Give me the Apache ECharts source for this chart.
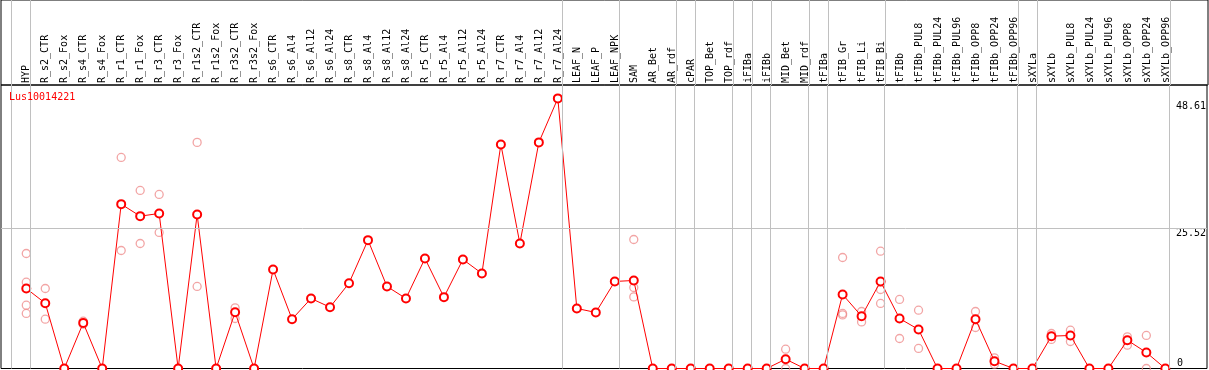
<!DOCTYPE html>
<html><head><meta charset="utf-8">
<script src="https://cdn.jsdelivr.net/npm/echarts@6/dist/echarts.min.js"></script>
<style>html,body{margin:0;padding:0;background:#fff}#c{width:1209px;height:370px}</style>
</head><body><div id="c"></div>
<script>
const geneName = 'Lus10014221';
const categories = ['HYP','R_s2_CTR','R_s2_Fox','R_s4_CTR','R_s4_Fox','R_r1_CTR','R_r1_Fox','R_r3_CTR','R_r3_Fox',
  'R_r1s2_CTR','R_r1s2_Fox','R_r3s2_CTR','R_r3s2_Fox','R_s6_CTR','R_s6_Al4','R_s6_Al12','R_s6_Al24',
  'R_s8_CTR','R_s8_Al4','R_s8_Al12','R_s8_Al24','R_r5_CTR','R_r5_Al4','R_r5_Al12','R_r5_Al24',
  'R_r7_CTR','R_r7_Al4','R_r7_Al12','R_r7_Al24','LEAF_N','LEAF_P','LEAF_NPK','SAM','AR_Bet','AR_rdf',
  'cPAR','TOP_Bet','TOP_rdf','iFIBa','iFIBb','MID_Bet','MID_rdf','tFIBa','tFIB_Gr','tFIB_Li','tFIB_Bi',
  'tFIBb','tFIBb_PUL8','tFIBb_PUL24','tFIBb_PUL96','tFIBb_OPP8','tFIBb_OPP24','tFIBb_OPP96',
  'sXYLa','sXYLb','sXYLb_PUL8','sXYLb_PUL24','sXYLb_PUL96','sXYLb_OPP8','sXYLb_OPP24','sXYLb_OPP96'];

// mean expression (red line)
const mainValues = [
  14.58, 11.9, 0, 8.31, 0, 29.95, 27.76, 28.25, 0, 28.07, 0, 10.26, 0,
  18.05, 8.99, 12.76, 11.17, 15.55, 23.39, 14.95, 12.76, 20.05, 13.0, 19.87, 17.32, 40.83, 22.78, 41.2, 49.22,
  10.94, 10.21, 15.86, 16.04, 0, 0, 0, 0, 0, 0, 0, 1.7, 0, 0,
  13.49, 9.53, 15.86, 9.11, 7.11, 0, 0, 8.99, 1.33, 0,
  0, 5.89, 6.02, 0, 0, 5.16, 2.92, 0];

// individual replicates (pale circles)
const repA = [
  20.96, 14.58, null, 8.62, null, 38.46, 32.45, 31.72, null, 41.2, null, 11.05, null,
  null, null, null, null, null, null, null, null, null, null, null, null, null, null, null, null,
  null, null, null, 23.51, null, null, null, null, null, null, null, 3.52, null, null,
  20.23, 10.39, 21.38, 12.58, 10.63, null, null, 10.39, 1.93, null,
  null, 6.38, 6.98, null, null, 5.76, 6.02, null];
const repB = [
  15.73, 8.99, null, 8.07, null, 21.5, 22.78, 24.79, null, 14.95, null, 9.11, null,
  null, null, null, null, null, null, null, null, null, null, null, null, null, null, null, null,
  null, null, null, 14.76, null, null, null, null, null, null, null, 0, null, null,
  10.03, 8.49, 14.4, 5.47, 3.65, null, null, 7.47, 0.78, null,
  null, 5.29, 4.92, null, null, 4.25, 0, null];
const repC = [
  11.54, null, null, null, null, null, null, null, null, null, null, null, null,
  null, null, null, null, null, null, null, null, null, null, null, null, null, null, null, null,
  null, null, null, 13.05, null, null, null, null, null, null, null, null, null, null,
  9.77, null, 11.85, null, null, null, null, null, null, null,
  null, null, null, null, null, null, null, null];
const repD = [
  10.03, null, null, null, null, null, null, null, null, null, null, null, null,
  null, null, null, null, null, null, null, null, null, null, null, null, null, null, null, null,
  null, null, null, null, null, null, null, null, null, null, null, null, null, null,
  null, null, null, null, null, null, null, null, null, null,
  null, null, null, null, null, null, null, null];

const yTickLabels = [25.52, 48.61];
const yZeroLabel = [0];
const gridLineValue = 25.52;
// last category index of each group (group separators)
const groupEnds = [0, 28, 31, 34, 35, 37, 38, 39, 41, 42, 45, 52, 53, 60];

const FONT = 'DejaVu Sans Mono';
const X_MIN = -1.3316, X_MAX = 62.195, Y_MAX = 51.66;
const sepOffset = 4 / 19;
const sepLines = [-1].concat(groupEnds).map(e => ({ xAxis: e + sepOffset }));

const repData = [];
[repA, repB, repC, repD].forEach(arr => arr.forEach((v, i) => { if (v !== null) repData.push([i, v]); }));
const mainData = mainValues.map((v, i) => [i, v]);

const chart = echarts.init(document.getElementById('c'), null, { renderer: 'canvas' });
const grayLine = { color: '#c0c0c0', width: 1, type: 'solid' };
chart.setOption({
  animation: false,
  backgroundColor: '#fff',
  title: {
    text: geneName, left: 9, top: 92, padding: 0,
    textStyle: { color: '#ff0000', fontSize: 10, fontFamily: FONT, fontWeight: 'normal' }
  },
  grid: [
    { left: 1, top: 85, width: 1207, height: 283.5, show: true, borderColor: '#000', borderWidth: 1, backgroundColor: 'transparent' },
    { left: 1, top: 0, width: 1207, height: 85, show: true, borderColor: '#000', borderWidth: 1, backgroundColor: 'transparent' },
    { left: 26.3, top: 85, width: 1140, height: 1, show: false }
  ],
  xAxis: [
    { gridIndex: 0, type: 'value', min: X_MIN, max: X_MAX, show: false },
    { gridIndex: 1, type: 'value', min: X_MIN, max: X_MAX, show: false },
    { gridIndex: 2, type: 'category', data: categories, boundaryGap: false, position: 'top',
      axisLine: { show: false }, axisTick: { show: false }, splitLine: { show: false },
      axisLabel: { interval: 0, rotate: 90, margin: 2, fontSize: 10, fontFamily: FONT, color: '#000' } }
  ],
  yAxis: [
    { gridIndex: 0, type: 'value', min: 0, max: Y_MAX, position: 'right',
      axisLine: { show: false }, axisTick: { show: false }, splitLine: { show: false },
      axisLabel: { inside: true, customValues: yTickLabels, align: 'right', verticalAlign: 'top', margin: 1,
        fontSize: 10, fontFamily: FONT, color: '#000', formatter: v => v.toFixed(2) } },
    { gridIndex: 0, type: 'value', min: 0, max: Y_MAX, position: 'right',
      axisLine: { show: false }, axisTick: { show: false }, splitLine: { show: false },
      axisLabel: { inside: true, customValues: yZeroLabel, align: 'left', verticalAlign: 'bottom', margin: 30,
        fontSize: 10, fontFamily: FONT, color: '#000', formatter: v => String(v) } },
    { gridIndex: 1, type: 'value', min: 0, max: 1, show: false },
    { gridIndex: 2, type: 'value', min: 0, max: 1, show: false }
  ],
  series: [
    { type: 'line', xAxisIndex: 1, yAxisIndex: 2, data: [], silent: true,
      markLine: { silent: true, symbol: 'none', label: { show: false }, lineStyle: grayLine, data: sepLines } },
    { type: 'scatter', xAxisIndex: 0, yAxisIndex: 0, data: repData, z: 2,
      symbol: 'circle', symbolSize: 8,
      itemStyle: { color: 'rgba(0,0,0,0)', borderColor: '#ef8f8f', borderWidth: 1.3 },
      markLine: { silent: true, symbol: 'none', label: { show: false }, lineStyle: grayLine,
        data: sepLines.concat([{ yAxis: gridLineValue }]) } },
    { type: 'line', xAxisIndex: 0, yAxisIndex: 0, data: mainData, z: 3,
      symbol: 'emptyCircle', symbolSize: 8, showAllSymbol: true,
      lineStyle: { color: '#ff0000', width: 1 },
      itemStyle: { color: '#ff0000', borderColor: '#ff0000', borderWidth: 1.3 } }
  ]
});
</script></body></html>
